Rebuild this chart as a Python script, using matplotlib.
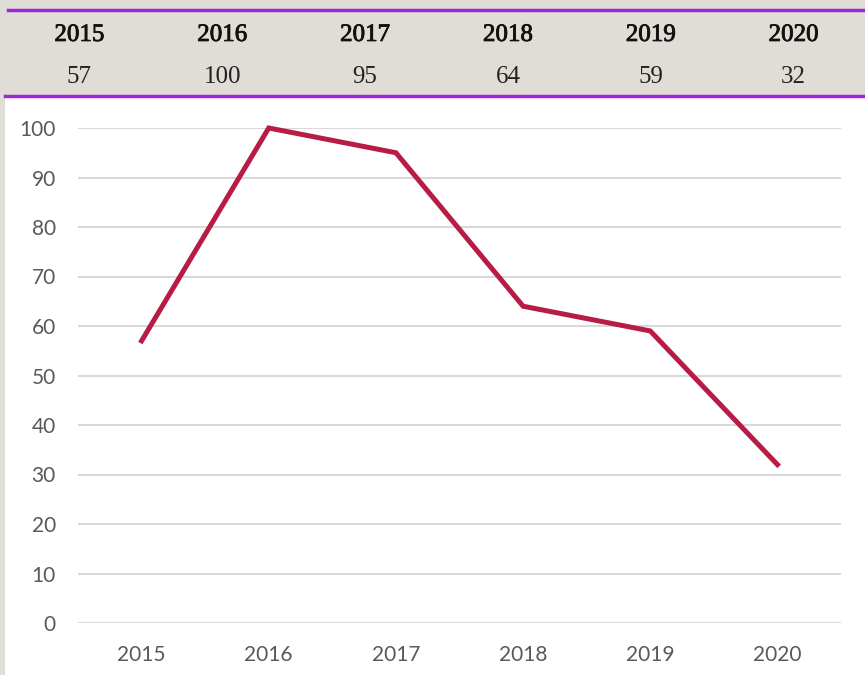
import matplotlib
matplotlib.use('Agg')
import matplotlib.pyplot as plt
import matplotlib.patheffects as pe
from matplotlib.patches import Rectangle
from matplotlib.lines import Line2D

years = ['2015', '2016', '2017', '2018', '2019', '2020']
values = [57, 100, 95, 64, 59, 32]
y_ticks = [0, 10, 20, 30, 40, 50, 60, 70, 80, 90, 100]

W, H = 865, 675
BG = '#e0ddd7'
PURPLE = '#9b27d8'
LINE = '#b81c45'

fig = plt.figure(figsize=(W / 100, H / 100), dpi=100, facecolor=BG)

# white chart area
fig.patches.append(Rectangle((5 / W, 0), 1 - 5 / W, 1 - 98 / H,
                             transform=fig.transFigure, facecolor='white',
                             edgecolor='none', zorder=-10))
# purple rules of the header
fig.lines.append(Line2D([8 / W, 1], [1 - 10 / H] * 2, transform=fig.transFigure,
                        color=PURPLE, lw=2.5))
fig.lines.append(Line2D([5 / W, 1], [1 - 96 / H] * 2, transform=fig.transFigure,
                        color=PURPLE, lw=2.5))

# header table
hx = fig.add_axes([8 / W, 1 - 96 / H, 1 - 8 / W, 86 / H])
hx.set_xlim(0, len(years))
hx.set_ylim(0, 1)
hx.axis('off')
bold_ish = [pe.withStroke(linewidth=0.6, foreground='#111111')]
for i, (yr, v) in enumerate(zip(years, values)):
    hx.text(i + 0.5, 0.71, yr, ha='center', va='center', fontsize=18,
            family='Liberation Serif', color='#111111', path_effects=bold_ish)
    hx.text(i + 0.5, 0.22, str(v), ha='center', va='center', fontsize=18,
            family='Liberation Serif', color='#222222')

# line chart
ax = fig.add_axes([78 / W, 1 - 623 / H, 763 / W, 495 / H])
ax.set_facecolor('none')
x = list(range(len(years)))
ax.plot(x, values, color=LINE, lw=3.6, clip_on=False, zorder=3,
        solid_joinstyle='miter')
ax.set_xlim(-0.5, len(years) - 0.5)
ax.set_ylim(0, 100)
ax.set_yticks(y_ticks)
ax.set_xticks(x)
ax.set_xticklabels(years)
ax.grid(axis='y', color='#d9d9d9', lw=1.5)
ax.set_axisbelow(True)
for s in ax.spines.values():
    s.set_visible(False)
ax.tick_params(length=0, labelsize=15, colors='#595959')
ax.tick_params(axis='x', pad=16)
ax.tick_params(axis='y', pad=16)
for lab in ax.get_xticklabels() + ax.get_yticklabels():
    lab.set_family('Lato')

fig.savefig('out.png', dpi=100, facecolor=BG)
